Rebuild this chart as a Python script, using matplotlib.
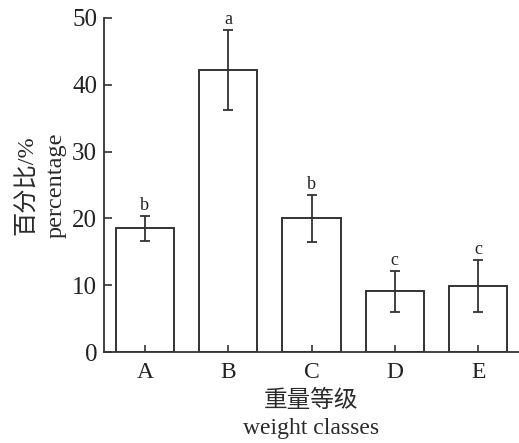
import matplotlib
matplotlib.use('Agg')
import matplotlib.pyplot as plt

plt.rcParams['font.family'] = ['Liberation Serif', 'Noto Sans CJK SC']

classes = ['A', 'B', 'C', 'D', 'E']
means = [18.5, 42.2, 20.0, 9.1, 9.9]
errs = [1.9, 6.0, 3.5, 3.1, 3.9]
letters = ['b', 'a', 'b', 'c', 'c']

fig = plt.figure(figsize=(5.19, 4.43), dpi=100)
ax = fig.add_axes([0.2004, 0.2054, 0.7996, 0.7540])

x = range(len(classes))
ax.bar(x, means, width=0.70, color='white', edgecolor='#333333', linewidth=1.4,
       yerr=errs, error_kw=dict(ecolor='#333333', elinewidth=1.3, capsize=3.6, capthick=1.3))

for i, (m, e, t) in enumerate(zip(means, errs, letters)):
    ax.text(i, m + e + 0.3, t, ha='center', va='bottom', fontsize=13, color='#222222')

ax.set_xlim(-0.49, 4.49)
ax.set_ylim(0, 50)
ax.set_yticks([0, 10, 20, 30, 40, 50])
ax.set_xticks(list(x))
ax.set_xticklabels(classes)

for s in ['top', 'right']:
    ax.spines[s].set_visible(False)
for s in ['left', 'bottom']:
    ax.spines[s].set_color('#333333')
    ax.spines[s].set_linewidth(1.3)

ax.tick_params(axis='both', direction='in', colors='#333333', labelcolor='#222222',
               width=1.2)
ax.tick_params(axis='y', length=6, pad=5, labelsize=18)
ax.tick_params(axis='x', length=5, pad=7, labelsize=17)

ax.set_ylabel('百分比/%\npercentage', fontsize=17.5, color='#2a2a2a', linespacing=1.45)
ax.yaxis.set_label_coords(-0.09, 0.5)
ax.set_xlabel('重量等级\nweight classes', fontsize=17, color='#2a2a2a', linespacing=1.35)
ax.xaxis.set_label_coords(0.5, -0.114)
ax.xaxis.label.set_va('top')

fig.savefig('out.png', dpi=100)
